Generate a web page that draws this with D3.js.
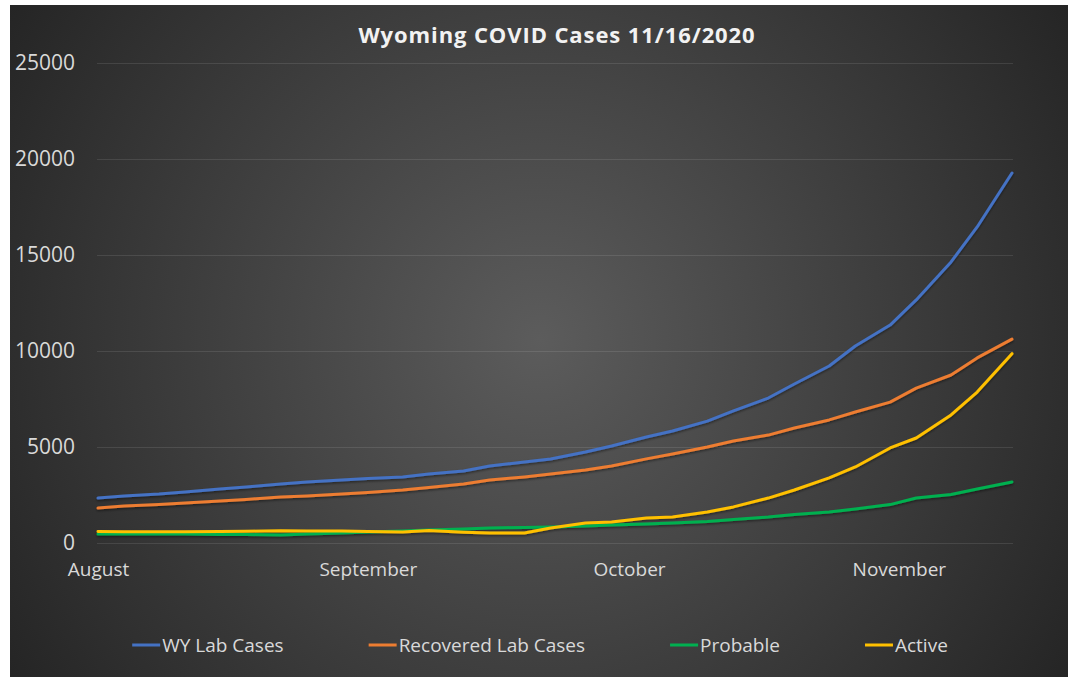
<!DOCTYPE html>
<html>
<head>
<meta charset="utf-8">
<script src="https://cdn.jsdelivr.net/npm/d3@7"></script>
<style>
  body { margin: 0; background: #fff; }
  svg text { font-family: 'Open Sans', sans-serif; }
</style>
</head>
<body>
<svg id="chart" width="1070" height="677"></svg>
<script>
// reporting dates (roughly twice a week)
const dates = ["2020-08-01", "2020-08-04", "2020-08-08", "2020-08-11", "2020-08-15", "2020-08-18",
  "2020-08-22", "2020-08-25", "2020-08-29", "2020-09-01", "2020-09-05", "2020-09-08",
  "2020-09-12", "2020-09-15", "2020-09-19", "2020-09-22", "2020-09-26", "2020-09-29",
  "2020-10-03", "2020-10-06", "2020-10-10", "2020-10-13", "2020-10-17", "2020-10-20",
  "2020-10-24", "2020-10-27", "2020-10-31", "2020-11-03", "2020-11-07", "2020-11-10", "2020-11-14"]

const wyLab = [2340, 2450, 2550, 2660, 2810, 2920, 3070, 3180, 3280, 3360, 3440, 3590,
  3750, 4010, 4220, 4380, 4740, 5050, 5520, 5830, 6350, 6880, 7550, 8280,
  9220, 10260, 11350, 12660, 14640, 16460, 19270]

const recovered = [1820, 1930, 2010, 2080, 2190, 2270, 2400, 2450, 2550, 2630, 2760, 2890,
  3070, 3280, 3440, 3590, 3800, 4010, 4380, 4640, 5000, 5310, 5620, 5990,
  6410, 6820, 7340, 8070, 8750, 9640, 10620]

const probable = [470, 470, 470, 470, 440, 440, 420, 470, 520, 570, 620, 680,
  730, 780, 810, 830, 890, 940, 990, 1040, 1120, 1220, 1350, 1480,
  1610, 1770, 2000, 2340, 2530, 2810, 3180]

const active = [600, 590, 580, 590, 600, 610, 640, 620, 630, 600, 570, 650,
  560, 520, 520, 780, 1040, 1090, 1300, 1350, 1610, 1880, 2340, 2760,
  3390, 3960, 4950, 5470, 6670, 7860, 9860]

const seriesNames = ["WY Lab Cases", "Recovered Lab Cases", "Probable", "Active"]
const seriesColors = ["#4472C4", "#ED7D31", "#00B050", "#FFC000"]
const yTicks = [0, 5000, 10000, 15000, 20000, 25000]
const monthStarts = ["2020-08-01", "2020-09-01", "2020-10-01", "2020-11-01"]
const monthLabels = ["August", "September", "October", "November"]

const W = 1070, H = 677
const svg = d3.select("#chart")

const defs = svg.append("defs")
const grad = defs.append("radialGradient").attr("id", "bg")
  .attr("gradientUnits", "userSpaceOnUse")
  .attr("cx", 540).attr("cy", 340).attr("r", 660)
grad.append("stop").attr("offset", "0%").attr("stop-color", "#5c5c5c")
grad.append("stop").attr("offset", "100%").attr("stop-color", "#222222")

const shadow = defs.append("filter").attr("id", "shadow")
  .attr("x", "-5%").attr("y", "-5%").attr("width", "110%").attr("height", "110%")
shadow.append("feDropShadow").attr("dx", 0).attr("dy", 1.5).attr("stdDeviation", 1.2)
  .attr("flood-color", "#000").attr("flood-opacity", 0.45)

svg.append("rect").attr("x", 10).attr("y", 5).attr("width", 1058).attr("height", H - 5)
  .attr("fill", "url(#bg)")

const parse = d3.utcParse("%Y-%m-%d")
const x = d3.scaleUtc()
  .domain([parse(dates[0]), parse(dates[dates.length - 1])])
  .range([98, 1012])
const y = d3.scaleLinear().domain([0, 25000]).range([543, 63])

// y axis + gridlines
const yAxis = svg.append("g").attr("transform", "translate(97,0)")
  .call(d3.axisLeft(y).tickValues(yTicks).tickFormat(d3.format("d"))
    .tickSizeInner(-916).tickSizeOuter(0).tickPadding(22))
yAxis.select(".domain").remove()
yAxis.selectAll("line").attr("stroke", "#ffffff").attr("stroke-opacity", 0.1)
yAxis.selectAll("text").attr("fill", "#d9d9d9").style("font-size", "21px")

// x axis (month labels)
const xAxis = svg.append("g").attr("transform", "translate(0,543)")
  .call(d3.axisBottom(x).tickValues(monthStarts.map(parse))
    .tickFormat((d, i) => monthLabels[i]).tickSize(0).tickPadding(20))
xAxis.select(".domain").remove()
xAxis.selectAll("text").attr("fill", "#d9d9d9").style("font-size", "19px")

// lines
const allSeries = [wyLab, recovered, probable, active]
const line = d3.line()
  .x((d, i) => x(parse(dates[i])))
  .y(d => y(d))

svg.append("g").attr("filter", "url(#shadow)")
  .selectAll("path").data(allSeries).join("path")
  .attr("d", line)
  .attr("fill", "none")
  .attr("stroke", (d, i) => seriesColors[i])
  .attr("stroke-width", 3)
  .attr("stroke-linejoin", "round")
  .attr("stroke-linecap", "round")

// title
svg.append("text").attr("x", 557).attr("y", 43)
  .attr("text-anchor", "middle")
  .attr("fill", "#f2f2f2")
  .style("font-size", "22px").style("font-weight", "bold").style("letter-spacing", "0.9px")
  .text("Wyoming COVID Cases 11/16/2020")

// legend, centered with even gaps
const legend = svg.append("g")
const items = legend.selectAll("g").data(seriesNames).join("g")
items.append("line").attr("x1", 0).attr("x2", 28).attr("y1", 645).attr("y2", 645)
  .attr("stroke", (d, i) => seriesColors[i]).attr("stroke-width", 3)
items.append("text").attr("x", 30).attr("y", 645).attr("dy", "0.35em")
  .attr("fill", "#d9d9d9").style("font-size", "19px")
  .text(d => d)

const widths = []
items.each(function () { widths.push(30 + this.querySelector("text").getComputedTextLength()) })
const gap = 85
const total = d3.sum(widths) + gap * (widths.length - 1)
let pos = 540 - total / 2
items.attr("transform", (d, i) => {
  const t = "translate(" + pos + ",0)"
  pos += widths[i] + gap
  return t
})
</script>
</body>
</html>
